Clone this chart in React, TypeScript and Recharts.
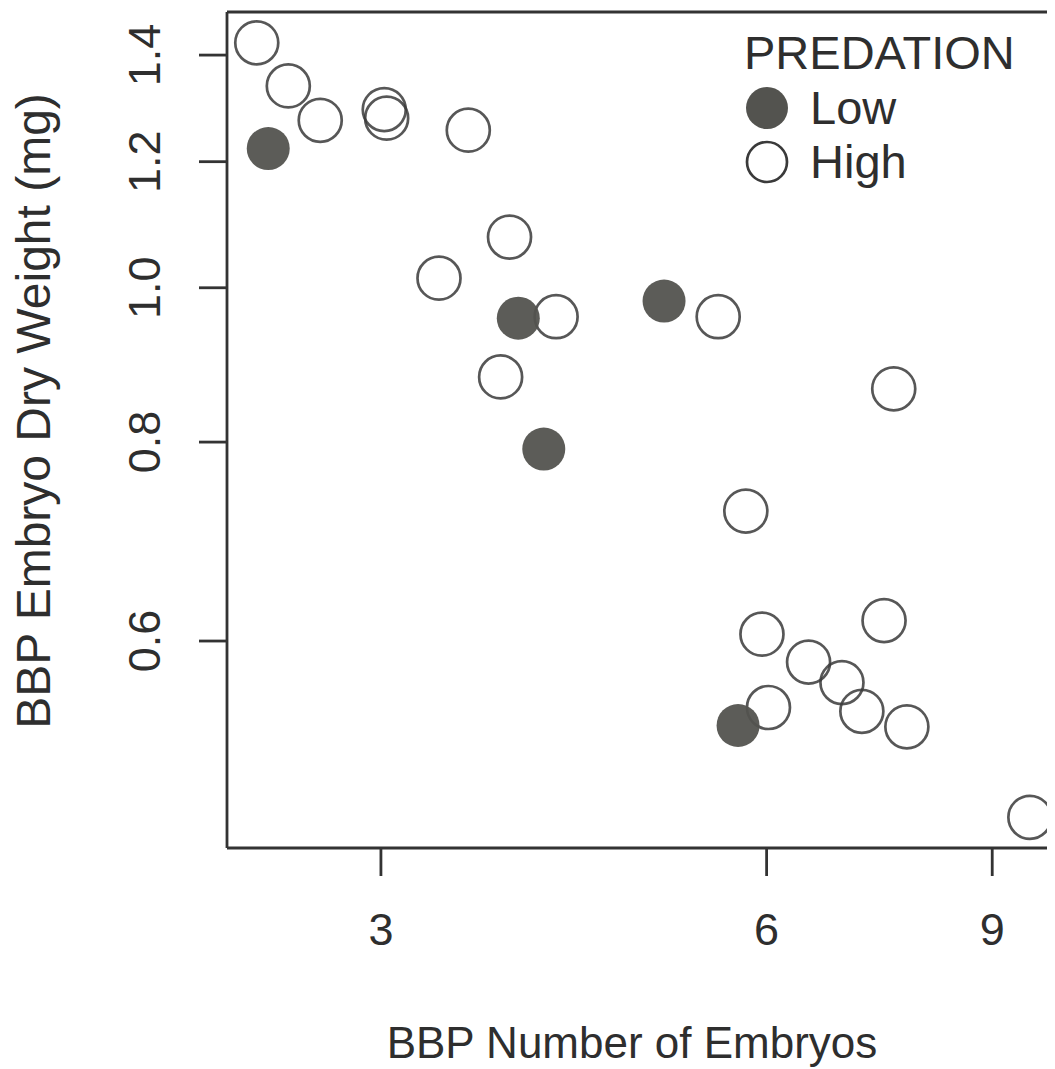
import React from "react";
import { ScatterChart, Scatter, XAxis, YAxis, Legend, Label } from "recharts";

const FONT = "'Liberation Sans', Arial, Helvetica, sans-serif";
const TEXT = "#2e2e2e";
const AXIS = "#333333";

// Predation groups (legend order)
const groups = ["Low", "High"];

// Low predation: number of embryos (x) and embryo dry weight in mg (y)
const lowX = [2.45, 3.84, 4.02, 4.99, 5.7];
const lowY = [1.223, 0.957, 0.792, 0.981, 0.531];

// High predation
const highX = [2.4, 2.54, 2.69, 3.018, 3.031, 3.51, 3.78, 3.33, 4.11, 5.5, 3.72, 7.54, 5.78, 5.95, 7.41, 6.47, 6.87, 6.02, 7.12, 7.72, 9.63];
const highY = [1.425, 1.339, 1.274, 1.294, 1.278, 1.256, 1.076, 1.014, 0.959, 0.959, 0.879, 0.864, 0.724, 0.606, 0.618, 0.582, 0.565, 0.545, 0.542, 0.53, 0.465];

const xTicks = [3, 6, 9];
const yTicks = [0.6, 0.8, 1.0, 1.2, 1.4];
const xDomain = [2.275, 10.5];
const yDomain = [0.4448, 1.49];

const lowData = lowX.map((x, i) => ({ x, y: lowY[i] }));
const highData = highX.map((x, i) => ({ x, y: highY[i] }));

const R = 21.5;

const OpenDot = (p: any) => (
  <circle cx={p.cx} cy={p.cy} r={R} fill="none" stroke="#3a3a3a" strokeOpacity={0.85} strokeWidth={2.7} />
);
const FilledDot = (p: any) => (
  <circle cx={p.cx} cy={p.cy} r={R} fill="#53534f" fillOpacity={0.95} />
);

const YTick = (p: any) => {
  const { x, y, payload } = p;
  return (
    <text
      x={x}
      y={y}
      transform={`rotate(-90 ${x} ${y})`}
      textAnchor="middle"
      fontSize={45}
      fontFamily={FONT}
      fill={TEXT}
    >
      {payload.value.toFixed(1)}
    </text>
  );
};

const LegendBox = () => (
  <svg width={300} height={190} style={{ display: "block" }}>
    <text x={4} y={49} fontSize={47} fontFamily={FONT} fill={TEXT}>PREDATION</text>
    {groups.map((g, i) => {
      const cy = 88 + i * 54;
      return (
        <g key={g}>
          {g === "Low" ? (
            <circle cx={27} cy={cy} r={21} fill="#53534f" />
          ) : (
            <circle cx={27} cy={cy} r={20} fill="none" stroke="#3a3a3a" strokeWidth={2.7} />
          )}
          <text x={70} y={cy + 16} fontSize={47} fontFamily={FONT} fill={TEXT}>{g}</text>
        </g>
      );
    })}
  </svg>
);

export default function App() {
  return (
    <div style={{ width: 1047, height: 1061, overflow: "hidden", position: "relative", background: "#fff" }}>
      <ScatterChart width={1075} height={1061} margin={{ top: 3, right: 5, bottom: 0, left: 0 }}>
        <XAxis
          dataKey="x"
          type="number"
          scale="log"
          domain={xDomain}
          allowDataOverflow
          ticks={xTicks}
          interval={0}
          height={221}
          tickSize={28}
          tickMargin={37}
          stroke={AXIS}
          axisLine={{ stroke: AXIS, strokeWidth: 2.8 }}
          tickLine={{ stroke: AXIS, strokeWidth: 2.8 }}
          tick={{ fontSize: 45, fontFamily: FONT, fill: TEXT }}
        >
          <Label
            content={(props: any) => {
              const vb = props.viewBox || {};
              return (
                <text x={vb.x + 405} y={vb.y + 210} textAnchor="middle" fontSize={44} fontFamily={FONT} fill={TEXT}>
                  BBP Number of Embryos
                </text>
              );
            }}
          />
        </XAxis>
        <XAxis
          xAxisId="top"
          orientation="top"
          type="number"
          scale="log"
          domain={xDomain}
          allowDataOverflow
          height={1}
          tick={false}
          tickLine={false}
          axisLine={{ stroke: AXIS, strokeWidth: 2.8 }}
        />
        <YAxis
          dataKey="y"
          type="number"
          scale="log"
          domain={yDomain}
          allowDataOverflow
          ticks={yTicks}
          interval={0}
          width={219}
          tickSize={28}
          tickMargin={39}
          axisLine={{ stroke: AXIS, strokeWidth: 2.8 }}
          tickLine={{ stroke: AXIS, strokeWidth: 2.8 }}
          tick={<YTick />}
        >
          <Label
            content={(props: any) => {
              const vb = props.viewBox || {};
              const x = vb.x + 42;
              const y = vb.y + 399;
              return (
                <text x={x} y={y} transform={`rotate(-90 ${x} ${y})`} textAnchor="middle" fontSize={48} fontFamily={FONT} fill={TEXT}>
                  BBP Embryo Dry Weight (mg)
                </text>
              );
            }}
          />
        </YAxis>
        <Legend
          layout="vertical"
          align="center"
          verticalAlign="middle"
          wrapperStyle={{ position: "absolute", left: 732, top: 12, width: 300, height: 190 }}
          content={() => <LegendBox />}
        />
        <Scatter name="High" data={highData} shape={OpenDot} isAnimationActive={false} />
        <Scatter name="Low" data={lowData} shape={FilledDot} isAnimationActive={false} />
      </ScatterChart>
    </div>
  );
}
